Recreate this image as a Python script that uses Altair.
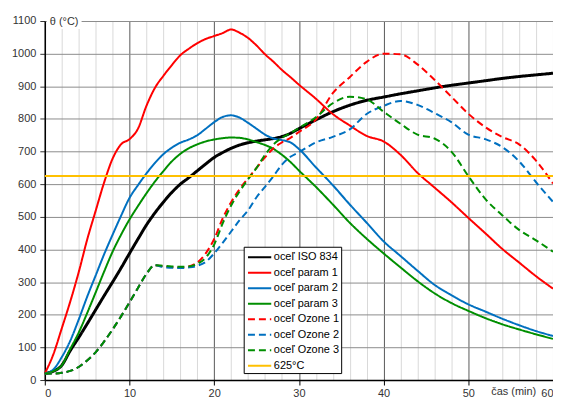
import altair as alt
import pandas as pd

# time axis (min)
t = list(range(0, 31)) + list(range(32, 61, 2))

iso834 = [20, 27, 45, 90, 130, 172, 215, 258, 300, 343, 388, 432, 475, 512, 545, 575, 600, 620, 641, 662,
          682, 697, 710, 720, 727, 732, 736, 740, 746, 756, 770,
          797, 822, 842, 857, 867, 877, 886, 895, 903, 910, 917, 924, 930, 935, 940]
param1 = [20, 78, 158, 240, 330, 430, 518, 605, 678, 722, 738, 770, 840, 895, 932, 965, 995, 1015, 1032, 1045,
          1054, 1063, 1074, 1064, 1048, 1025, 998, 975, 950, 928, 905,
          862, 815, 780, 748, 731, 690, 635, 590, 545, 497, 450, 402, 360, 318, 280]
param2 = [20, 32, 70, 120, 185, 255, 320, 385, 445, 503, 558, 597, 633, 665, 692, 712, 727, 737, 750, 770,
          790, 806, 811, 804, 788, 770, 752, 740, 735, 728, 708,
          652, 597, 538, 482, 425, 380, 335, 292, 260, 232, 210, 188, 168, 150, 135]
param3 = [20, 27, 45, 95, 145, 205, 268, 332, 393, 445, 492, 533, 572, 608, 640, 670, 693, 710, 722, 731,
          737, 741, 743, 742, 737, 729, 720, 708, 690, 668, 642,
          592, 538, 482, 433, 388, 345, 303, 266, 236, 212, 190, 171, 155, 140, 126]
ozone1 = [20, 20, 22, 28, 40, 60, 85, 118, 155, 195, 238, 282, 325, 352, 348, 346, 345, 348, 360, 388,
          432, 495, 545, 585, 618, 650, 682, 710, 728, 742, 760,
          798, 879, 928, 975, 1000, 998, 967, 920, 868, 816, 775, 745, 722, 672, 602]
ozone2 = [20, 20, 22, 28, 40, 60, 85, 118, 155, 195, 238, 282, 325, 352, 346, 344, 343, 345, 350, 362,
          388, 420, 455, 490, 520, 560, 592, 625, 660, 684, 698,
          728, 745, 768, 815, 840, 855, 843, 818, 790, 752, 738, 714, 670, 606, 546]
ozone3 = [20, 20, 22, 28, 40, 60, 85, 118, 155, 195, 238, 282, 325, 352, 350, 348, 347, 348, 356, 375,
          415, 480, 535, 578, 615, 650, 690, 722, 742, 757, 772,
          805, 848, 868, 860, 822, 785, 752, 740, 700, 625, 555, 505, 460, 428, 393]
t625 = [0, 60]
v625 = [625, 625]

names = ["oceľ ISO 834", "oceľ param 1", "oceľ param 2", "oceľ param 3",
         "oceľ Ozone 1", "oceľ Ozone 2", "oceľ Ozone 3", "625°C"]
colors = ["#000000", "#FF0000", "#0070C0", "#008F00",
          "#FF0000", "#0070C0", "#008F00", "#FFC000"]
dashes = [[1, 0], [1, 0], [1, 0], [1, 0], [7, 4], [7, 4], [7, 4], [1, 0]]

series = [iso834, param1, param2, param3, ozone1, ozone2, ozone3]
rows = []
for i, (n, vals) in enumerate(zip(names[:7], series)):
    for tt, v in zip(t, vals):
        rows.append({"series": n, "t": tt, "temp": v, "o": i})
for tt, v in zip(t625, v625):
    rows.append({"series": names[7], "t": tt, "temp": v, "o": 7})
df = pd.DataFrame(rows)

FONT = "Liberation Sans"

xaxis = alt.Axis(
    values=list(range(0, 61, 2)),
    labelExpr="datum.value % 10 == 0 ? datum.label : ''",
    gridColor=alt.condition("datum.value % 10 == 0", alt.value("#595959"), alt.value("#D9D9D9")),
    tickOpacity=alt.condition("datum.value % 10 == 0", alt.value(1), alt.value(0)),
    tickSize=5, tickColor="#000000", labelPadding=3,
    domainColor="#000000", domainWidth=1.5,
    title="čas (min)", titleX=471, titleY=12, titleAlign="center", titleBaseline="middle",
    titleFontWeight="normal", titleFontSize=11, titleFont=FONT, titleColor="#333333",
)
yaxis = alt.Axis(
    values=list(range(0, 1101, 100)), format="d",
    gridColor="#8C8C8C", tickSize=5, tickColor="#333333", labelPadding=4,
    domainColor="#000000", domainWidth=1.5, title=None,
)

lines = alt.Chart(df).mark_line(interpolate="monotone").encode(
    x=alt.X("t:Q", scale=alt.Scale(domain=[0, 60], nice=False), axis=xaxis),
    y=alt.Y("temp:Q", scale=alt.Scale(domain=[0, 1100], nice=False), axis=yaxis),
    color=alt.Color("series:N", sort=names, scale=alt.Scale(domain=names, range=colors),
                    title=None),
    strokeDash=alt.StrokeDash("series:N", sort=names, scale=alt.Scale(domain=names, range=dashes),
                              title=None),
    strokeWidth=alt.condition("datum.series == 'oceľ ISO 834'", alt.value(3), alt.value(2)),
    order="o:Q",
)

one = pd.DataFrame({"a": [0]})
bg = alt.Chart(one).mark_rect(color="white").encode(
    x=alt.value(2), x2=alt.value(37), y=alt.value(-7), y2=alt.value(8))
ytitle = alt.Chart(one).mark_text(align="left", baseline="middle", font=FONT, fontSize=11,
                                  color="#333333").encode(
    x=alt.value(5), y=alt.value(1), text=alt.value("θ (°C)"))

chart = alt.layer(lines, bg, ytitle).properties(
    width=511, height=361,
    autosize=alt.AutoSizeParams(type="none"),
    padding={"left": 37, "top": 12, "right": 0, "bottom": 20},
).configure_view(stroke=None).configure_axis(
    labelFont=FONT, labelFontSize=11, labelColor="#333333", grid=True,
).configure_legend(
    orient="none", legendX=200, legendY=227, padding=2,
    strokeColor="#000000", fillColor="#FFFFFF",
    symbolType="M-1.56,0L1.56,0", symbolSize=225, symbolOffset=5.5, labelOffset=5.8,
    symbolStrokeWidth=2, rowPadding=1.6,
    labelFont=FONT, labelFontSize=11, labelColor="#000000", labelLimit=200,
)

chart.save("out.html", embed_options={"renderer": "svg", "actions": False})
